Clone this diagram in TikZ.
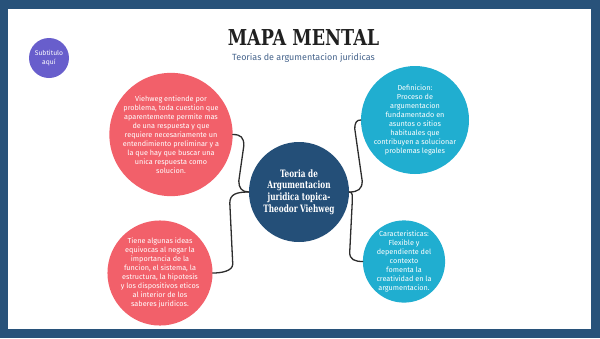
\documentclass[tikz,border=0pt]{standalone}
\usepackage{fontspec}
\setmainfont{Fira Sans}
\newfontfamily\slabfont[FakeStretch=0.8]{DejaVu Serif}
\newfontfamily\slabcond[FakeStretch=0.72]{DejaVu Serif}
\usetikzlibrary{calc}
\definecolor{frameblue}{RGB}{40,82,122}
\definecolor{centerblue}{RGB}{36,79,120}
\definecolor{coral}{RGB}{242,96,106}
\definecolor{cyanbub}{RGB}{32,174,208}
\definecolor{purplebub}{RGB}{104,94,204}
\definecolor{subcol}{RGB}{70,100,140}
\definecolor{titlecol}{RGB}{32,32,32}
\definecolor{linecol}{RGB}{45,45,45}
\tikzset{
  bubble/.style={circle, inner sep=0pt, align=center, text=white,
    font=\fontsize{7.3}{9}\selectfont},
  conn/.style={draw=linecol, line width=1.3bp, line cap=round}
}
\begin{document}
\begin{tikzpicture}[x=1bp,y=-1bp]
\useasboundingbox (0,0) rectangle (600,338);
\fill[frameblue] (0,0) rectangle (600,338);
\fill[white] (8.4,9) rectangle (591.3,329.3);

\node[text=titlecol, font=\slabfont\bfseries\fontsize{22}{24}\selectfont] (title) at (303.5,38) {MAPA MENTAL};
\node[text=subcol, font=\fontsize{9}{10}\selectfont] (subtitle) at (303.5,57.5) {Teorias de argumentacion juridicas};

\node[bubble, fill=purplebub, minimum size=40bp, font=\fontsize{6.8}{9}\selectfont] (sub) at (49,58) {Subtitulo\\aquí};

\node[bubble, fill=centerblue, minimum size=100bp, font=\slabcond\bfseries\fontsize{10.2}{11.6}\selectfont] (C) at (299,192) {Teoria de\\Argumentacion\\juridica topica-\\Theodor Viehweg};

\node[bubble, fill=coral, minimum size=111bp] (tl) at (171,134.5) {Viehweg entiende por\\problema, toda cuestion que\\aparentemente permite mas\\de una respuesta y que\\requiere necesariamente un\\entendimiento preliminar y a\\la que hay que buscar una\\unica respuesta como\\solucion.};

\node[bubble, fill=coral, minimum size=100bp] (bl) at (160,273) {Tiene algunas ideas\\equivocas al negar la\\importancia de la\\funcion, el sistema, la\\estructura, la hipotesis\\y los dispositivos eticos\\al interior de los\\saberes juridicos.};

\node[bubble, fill=cyanbub, minimum size=94bp] (tr) at (415,120) {Definicion:\\Proceso de\\argumentacion\\fundamentado en\\asuntos o sitios\\habituales que\\contribuyen a solucionar\\problemas legales};

\node[bubble, fill=cyanbub, minimum size=77bp] (br) at (404,261.5) {Caracteristicas:\\Flexible y\\dependiente del\\contexto\\fomenta la\\creatividad en la\\argumentacion.};

% connectors
\draw[conn] (C.west) .. controls +(-7,0) and +(0,7) .. ($(C.west)+(-10,-11)$)
  -- ($(tl.east)+(11,11)$) .. controls +(0,-8) and +(8,0) .. (tl.east);
\draw[conn] (C.west) .. controls +(-12,0) and +(0,-9) .. ($(C.west)+(-19,11)$)
  -- ($(bl.east)+(20,-9)$) .. controls +(0,7) and +(9,0) .. (bl.east);
\draw[conn] (C.east) .. controls +(9,0) and +(0,8) .. ($(C.east)+(13,-11)$)
  -- ($(tr.west)+(-6,9)$) .. controls +(0,-7) and +(-4,0) .. (tr.west);
\draw[conn] (C.east) .. controls +(4,0) and +(0,-7) .. ($(C.east)+(3,11)$)
  -- ($(br.west)+(-13,-9)$) .. controls +(0,7) and +(-8,0) .. (br.west);
\end{tikzpicture}
\end{document}
